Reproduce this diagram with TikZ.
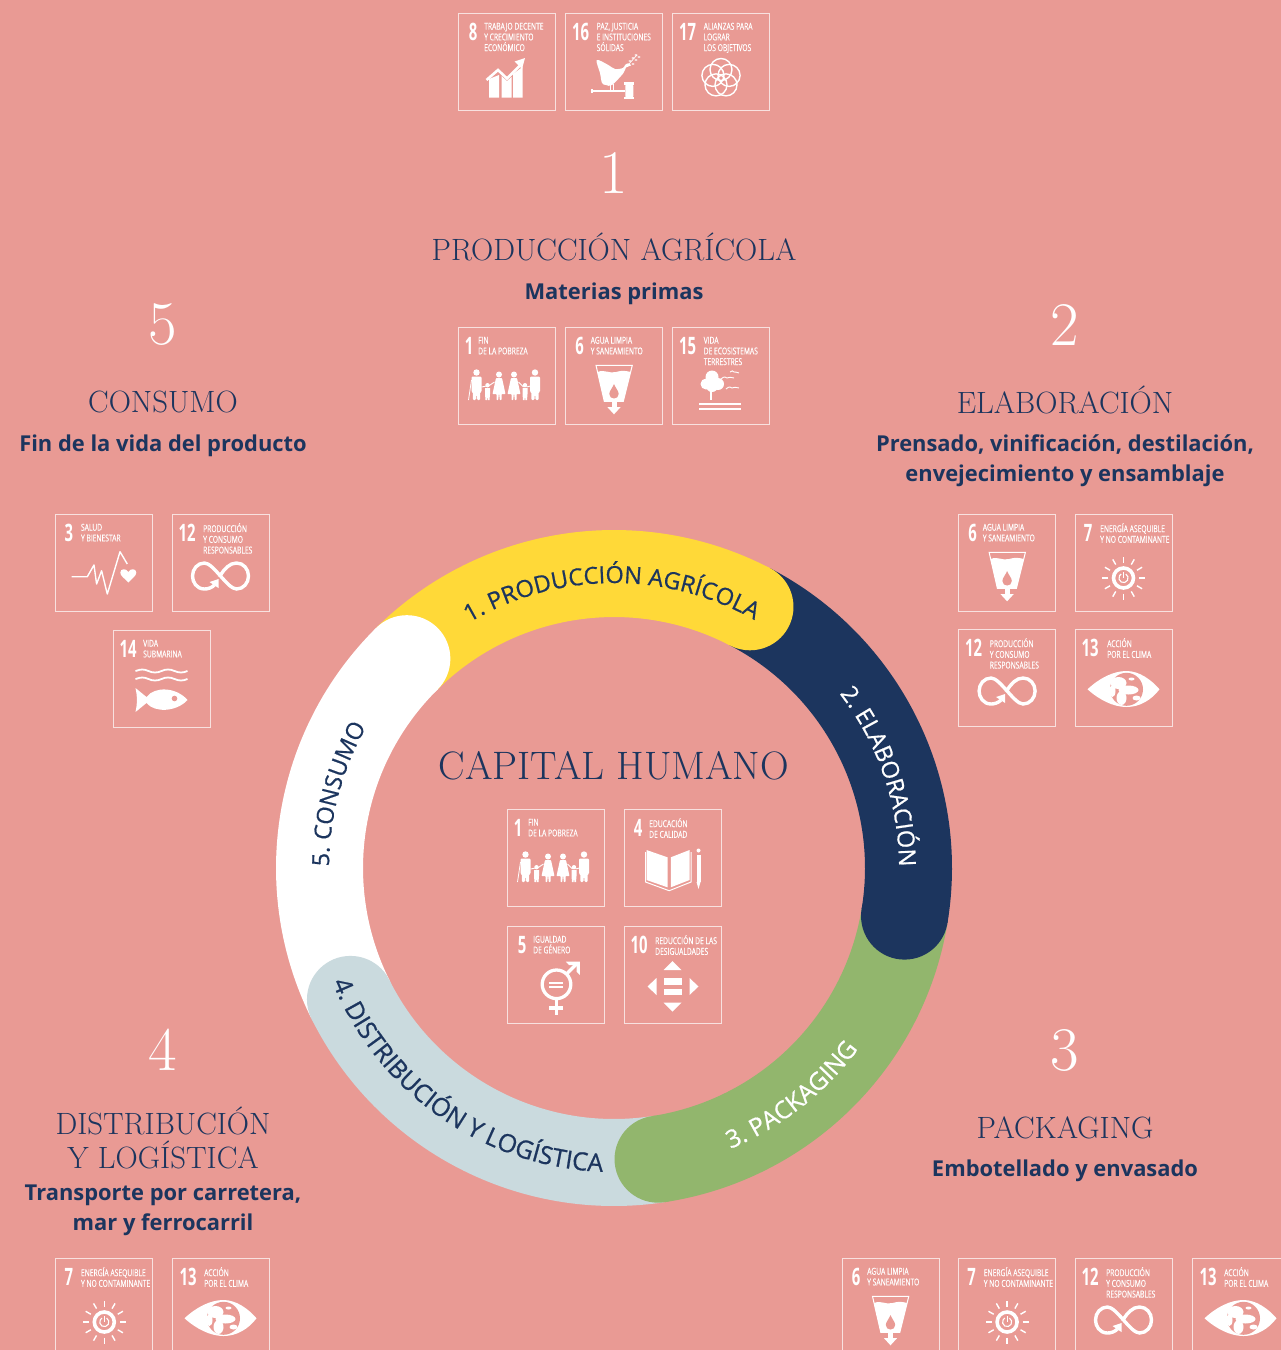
\documentclass[tikz,border=0pt]{standalone}
\usepackage{fontspec}
\usepackage{tikz}
\usetikzlibrary{decorations.text}
\newfontfamily\subfont{Open Sans}
\newfontfamily\ringfont[FakeBold=0.7]{Open Sans}
\newfontfamily\sdgfont[FakeStretch=0.7,FakeBold=0.25]{Open Sans}
\newfontfamily\sdgnumfont[FakeStretch=0.62]{Open Sans}
\definecolor{bgpink}{HTML}{E99A94}
\definecolor{navy}{HTML}{1C355E}
\definecolor{ringyellow}{HTML}{FFD938}
\definecolor{ringgreen}{HTML}{92B66D}
\definecolor{ringblue}{HTML}{CADADE}

% one person of the family icon
\newcommand{\adult}[1]{
  \fill (#1,19.5) circle[radius=3.2];
  \fill[rounded corners=1] (#1-5,15.5) -- (#1+5,15.5) -- (#1+5,0) -- (#1+3.7,0) -- (#1+3.5,-8) -- (#1+.6,-8) -- (#1,-1) -- (#1-.6,-8) -- (#1-3.5,-8) -- (#1-3.7,0) -- (#1-5,0) -- cycle;
}
\newcommand{\lady}[1]{
  \fill (#1,17.5) circle[radius=3];
  \fill[rounded corners=.7] (#1-3,14) -- (#1+3,14) -- (#1+6.5,-2) -- (#1+2.5,-2) -- (#1+2.5,-8) -- (#1+.6,-8) -- (#1+.4,-2) -- (#1-.4,-2) -- (#1-.6,-8) -- (#1-2.5,-8) -- (#1-2.5,-2) -- (#1-6.5,-2) -- cycle;
}
\newcommand{\kid}[1]{
  \fill (#1,6.8) circle[radius=2.2];
  \fill (#1-2.5,4) -- (#1+2.5,4) -- (#1+2.5,-2) -- (#1+2,-8) -- (#1+.4,-8) -- (#1,-3) -- (#1-.4,-8) -- (#1-2,-8) -- (#1-2.5,-2) -- cycle;
}

\tikzset{
  sdgbox/.style={draw=white!70!bgpink,line width=1pt,minimum size=97pt,inner sep=0pt,outer sep=0pt,anchor=north west},
  sdgnum/.style={text=white,inner sep=0pt,font=\sdgnumfont\bfseries\fontsize{24}{24}\selectfont},
  sdglab/.style={text=white,inner sep=0pt,anchor=north west,align=left,font=\sdgfont\fontsize{9.6}{10.7}\selectfont},
  titletext/.style={text=navy,inner sep=0pt,font=\fontsize{30.8}{34}\selectfont},
  bigdigit/.style={text=white,inner sep=0pt,font=\fontsize{62}{62}\selectfont},
  subtext/.style={text=navy,inner sep=0pt,align=center,font=\subfont\bfseries\fontsize{21.9}{30.5}\selectfont},
  ringtext/.style={decorate,decoration={text along path,text align=center,text color=#1}},
  icongrowth/.pic={
    \fill (-17.5,-19.5) -- (-17.5,-1) -- (-7.5,3) -- (-7.5,-19.5) -- cycle;
    \fill (-5,-19.5) -- (-5,2) -- (0.5,-3) -- (5,1) -- (5,-19.5) -- cycle;
    \fill (6.5,-19.5) -- (6.5,4) -- (16,11) -- (16,-19.5) -- cycle;
    \draw[white,line width=2.6] (-20,-2) -- (-8.5,8) -- (0.5,-0.5) -- (14,13);
    \fill (18.5,20) -- (8,16.5) -- (15.5,9) -- cycle;
  },
  icondove/.pic={
    \fill plot[smooth cycle,tension=.55] coordinates {(-17.3,18) (-5.7,13) (1,9) (9,10) (11,13) (14.3,14.7) (17,12.5) (12,10.5) (9.3,4.7) (-2,-7) (-8,-7) (-12,-5) (-14,5)};
    \draw[white,line width=1] (-4,-6) -- (-4,-12);
    \draw[white,line width=1] (-1,-6) -- (-1,-12);
    \fill (-23,-11.7) rectangle (11,-14);
    \fill (-23.5,-11) rectangle (-21.5,-14.7);
    \fill[rounded corners=.6] (11.3,-7) rectangle (19.3,-19);
    \fill (10.3,-4.3) rectangle (20.3,-6.5);
    \fill (10.3,-19) rectangle (20.3,-21);
    \draw[white,line width=.7] (14,13) -- (23,23);
    \foreach \lx/\ly in {16/17,19/20,22/23,19/14,22/18,25/21}
      \fill (\lx,\ly) ellipse[x radius=1.6,y radius=.8];
  },
  iconflower/.pic={
    \foreach \a in {90,162,234,306,18}
      \draw[white,line width=1.4] (\a:8.5) circle[radius=11];
  },
  iconfamily/.pic={
    \adult{-30} \lady{-7.5} \lady{7.5} \adult{28.5} \kid{-19} \kid{18.5}
    \draw[white,line width=.8] (-35,12) -- (-38,-8);
    \draw[white,line width=.9] (-25,5) -- (-20,6);
    \draw[white,line width=.9] (-18,6) -- (-12,10);
    \draw[white,line width=.9] (12,10) -- (17,5);
    \draw[white,line width=.9] (20,5) -- (24,6);
  },
  iconcup/.pic={
    \draw[white,line width=1] (-18,26.7) -- (18.3,26.7) -- (9.3,-9.3) -- (-9.7,-9.3) -- cycle;
    \fill (-16.5,20) .. controls (-9,23) and (-5,18) .. (2,20) .. controls (8,22) and (13,21) .. (16.6,20) -- (9.3,-9.3) -- (-9.7,-9.3) -- cycle;
    \fill (-2.5,-9.3) rectangle (2.5,-15);
    \fill (-6.7,-15) -- (6.7,-15) -- (0,-22.3) -- cycle;
    \fill[bgpink] (0,8) .. controls (1.5,4) and (4.7,1) .. (4.7,-2) .. controls (4.7,-8) and (-4.7,-8) .. (-4.7,-2) .. controls (-4.7,1) and (-1.5,4) .. (0,8);
  },
  icontree/.pic={
    \fill (-9,15) circle[radius=6.5];
    \fill (-15,8) circle[radius=5.5];
    \fill (-3,8) circle[radius=6];
    \fill (-9,6) circle[radius=6];
    \fill (-10.7,2) rectangle (-8.7,-8);
    \fill (-21.7,-10.7) rectangle (20,-12.7);
    \fill (-21.7,-15.7) rectangle (20,-17.7);
    \draw[white,line width=.9] (0,13) .. controls (3,16) and (5,15) .. (6,14) .. controls (8,15) and (10,15) .. (13,14);
    \draw[white,line width=.9] (9,20) .. controls (11,22) and (12,21) .. (13,20) .. controls (14,20) and (16,20) .. (18,19);
    \draw[white,line width=.9] (5,3) .. controls (8,6) and (10,5) .. (11,4) .. controls (13,5) and (15,5) .. (18,4);
  },
  iconbook/.pic={
    \fill (-26,24) -- (-5,16.7) -- (-5,-13.3) -- (-26,-6) -- cycle;
    \fill (-1.7,16.7) -- (17,24) -- (17,-6) -- (-1.7,-13.3) -- cycle;
    \draw[white,line width=1] (-27,22) -- (-27,-8) -- (-3.3,-16.7) -- (18.5,-8) -- (18.5,22);
    \fill (24,19) rectangle (28,-8);
    \fill (24,-8) -- (28,-8) -- (26,-15) -- cycle;
    \fill (26,23.5) circle[radius=2];
  },
  icongender/.pic={
    \draw[white,line width=3.3] (1,6.7) circle[radius=14.3];
    \fill (-6.5,9.5) rectangle (7.5,6.8);
    \fill (-6.5,5.5) rectangle (7.5,2.8);
    \draw[white,line width=3.3] (1,-9) -- (1,-24);
    \draw[white,line width=3.3] (-6.3,-17) -- (7.6,-17);
    \draw[white,line width=3.3] (12,18) -- (21,27);
    \fill (10.3,29.3) -- (24.3,29.3) -- (24.3,16) -- (21,19.5) -- (21,26) -- (13.5,26) -- cycle;
  },
  iconarrows/.pic={
    \fill (-9,21) -- (9,21) -- (0,30) -- cycle;
    \fill (-9,-11.7) -- (9,-11.7) -- (0,-20.7) -- cycle;
    \fill (-16,13) -- (-16,-4) -- (-25,4.5) -- cycle;
    \fill (17,13) -- (17,-4) -- (26,4.5) -- cycle;
    \fill (-9,13) rectangle (9,6.5);
    \fill (-9,2.5) rectangle (9,-4);
  },
  iconsun/.pic={
    \draw[white,line width=3.6] (0,1) circle[radius=10];
    \draw[white,line width=1.1] (0,1) ++(60:4.6) arc[start angle=60,end angle=-240,radius=4.6];
    \draw[white,line width=1.2] (0,1) -- (0,7);
    \foreach \a in {0,30,...,330}
      \draw[white,line width=1.4] (0,1) ++(\a:15.5) -- ++(\a:6);
  },
  iconloop/.pic={
    \begin{scope}[yshift=3]
    \draw[white,line width=3.4] (-6,-9) .. controls (-9,-12) and (-13,-13) .. (-16,-13) .. controls (-24,-13) and (-28,-6) .. (-28,0) .. controls (-28,7) and (-23,13) .. (-16,13) .. controls (-7,13) and (7,-13) .. (16,-13) .. controls (23,-13) and (28,-7) .. (28,0) .. controls (28,7) and (23,13) .. (16,13) .. controls (9,13) and (4,7) .. (0,1) -- (-1,-1);
    \fill (-2,-3) -- (-2,-12) -- (-11,-6) -- cycle;
    \end{scope}
  },
  iconeye/.pic={
    \fill (-36,4.7) .. controls (-24,16) and (-10,23) .. (3,23) .. controls (16,23) and (28,14) .. (36,4.7) .. controls (28,-6) and (16,-13) .. (3,-13) .. controls (-10,-13) and (-24,-6) .. (-36,4.7) -- cycle;
    \fill[bgpink] (3,4.7) circle[radius=16.5];
    \fill (-5,11) ellipse[x radius=8,y radius=6];
    \fill (5,4) ellipse[x radius=10,y radius=4.5];
    \fill (-2,-4) ellipse[x radius=5,y radius=7];
    \fill (13,-4) ellipse[x radius=4,y radius=2.5];
    \fill (-11,3) ellipse[x radius=3,y radius=6];
    \fill (8,15) ellipse[x radius=3,y radius=1.5];
  },
  iconpulse/.pic={
    \draw[white,line width=1.4,line join=round] (-32.7,2.3) -- (-17,2.3) -- (-10.3,14) -- (-7.7,-5) -- (-2.7,8.3) -- (3,-15) -- (15.7,27.3) -- (23,15);
    \fill (24,-3.5) .. controls (20,1) and (16,3) .. (16,6.5) .. controls (16,10.5) and (22,11) .. (24,7) .. controls (26,11) and (32,10.5) .. (32,6.5) .. controls (32,3) and (28,1) .. (24,-3.5);
  },
  iconfish/.pic={
    \foreach \wy in {24,16}
      \draw[white,line width=1.8] (-26,\wy) .. controls (-20,\wy+2) and (-18,\wy+2) .. (-13,\wy) .. controls (-9,\wy-2) and (-4,\wy-2) .. (0,\wy) .. controls (4,\wy+2) and (9,\wy+2) .. (13,\wy) .. controls (18,\wy-2) and (21,\wy-2) .. (26,\wy);
    \fill (26,-5) .. controls (15,8) and (-7,9) .. (-15,-2) -- (-26,7) .. controls (-24,-3) and (-24,-7) .. (-26,-17) -- (-15,-8) .. controls (-7,-18) and (15,-17) .. (26,-5) -- cycle;
    \fill[bgpink] (13,-3.5) circle[radius=2.8];
  },
}

% name, x, y, number, x of number, x of label, label, icon
\newcommand{\sdg}[8]{
  \node[sdgbox] (#1) at (#2,-#3) {};
  \node[sdgnum] (#1num) at ([shift={(#5,-19)}]#1.north west) {#4};
  \node[sdglab] (#1lab) at ([shift={(#6,-9)}]#1.north west) {\rule{0pt}{7.5pt}#7};
  \pic[white,fill=white] at ([shift={(48.5,-65)}]#1.north west) {#8};
}

\begin{document}
\begin{tikzpicture}[x=1pt,y=1pt]
  \useasboundingbox (0,0) rectangle (1281,-1350);
  \fill[bgpink] (0,0) rectangle (1281,-1350);

  % the ring
  \begin{scope}[shift={(614,-868)}]
    \foreach \col/\from/\to in {ringyellow/134.7/62.5,navy/62.5/-9.4,ringgreen/-9.4/-81.4,ringblue/-81.4/-153.5,white/-153.5/-225.3}
      \draw[\col,line width=87pt] (\from:294.5) arc[start angle=\from,end angle=\to,radius=294.5pt];
    \foreach \col/\to in {ringyellow/62.5,navy/-9.4,ringgreen/-81.4,ringblue/-153.5,white/134.7}
      \fill[\col] (\to:294.5) circle[radius=43.5pt];

    \path[ringtext=navy,decoration={text={|\ringfont\fontsize{23.5}{24}\selectfont|1. PRODUCCIÓN AGRÍCOLA}}]
      (140:285) arc[start angle=140,end angle=41,radius=285pt];
    \path[ringtext=white,decoration={text={|\ringfont\fontsize{23.5}{24}\selectfont|2. ELABORACIÓN}}]
      (64:285) arc[start angle=64,end angle=-26,radius=285pt];
    \path[ringtext=white,decoration={text={|\ringfont\fontsize{24.5}{24}\selectfont|3. PACKAGING}}]
      (-91.5:304) arc[start angle=-91.5,end angle=-12.5,radius=304pt];
    \path[ringtext=navy,decoration={text={|\ringfont\fontsize{25}{24}\selectfont|4. DISTRIBUCIÓN Y LOGÍSTICA}}]
      (189.5:304) arc[start angle=189.5,end angle=280.5,radius=304pt];
    \path[ringtext=navy,decoration={text={|\ringfont\fontsize{23.5}{24}\selectfont|5. CONSUMO}}]
      (201:285) arc[start angle=201,end angle=129,radius=285pt];
  \end{scope}

  % headings
  \node[bigdigit] (d1) at (614,-173) {1};
  \node[titletext] (t1) at (614,-247) {PRODUCCIÓN AGRÍCOLA};
  \node[subtext] (s1) at (614,-293.5) {Materias primas};
  \node[bigdigit] (d2) at (1065,-325) {2};
  \node[titletext] (t2) at (1065,-400) {ELABORACIÓN};
  \node[subtext] (s2) at (1065,-460.5) {Prensado, vinificación, destilación,\\envejecimiento y ensamblaje};
  \node[bigdigit] (d3) at (1065,-1050) {3};
  \node[titletext] (t3) at (1065,-1128) {PACKAGING};
  \node[subtext] (s3) at (1065,-1170.5) {Embotellado y envasado};
  \node[bigdigit] (d4) at (163,-1050) {4};
  \node[titletext,align=center] (t4) at (163,-1138) {DISTRIBUCIÓN\\Y LOGÍSTICA};
  \node[subtext] (s4) at (163,-1210.5) {Transporte por carretera,\\mar y ferrocarril};
  \node[bigdigit] (d5) at (163,-325) {5};
  \node[titletext] (t5) at (163,-402) {CONSUMO};
  \node[subtext] (s5) at (163,-445.5) {Fin de la vida del producto};
  \node[titletext,font=\fontsize{39.7}{40}\selectfont] (centre) at (614,-766) {CAPITAL HUMANO};

  % goal boxes
  \sdg{top8}{458}{13}{8}{15}{26}{TRABAJO DECENTE\\Y CRECIMIENTO\\ECONÓMICO}{icongrowth}
  \sdg{top16}{565.5}{13}{16}{15}{31}{PAZ, JUSTICIA\\E INSTITUCIONES\\SÓLIDAS}{icondove}
  \sdg{top17}{672.5}{13}{17}{15}{31}{ALIANZAS PARA\\LOGRAR\\LOS OBJETIVOS}{iconflower}

  \sdg{agr1}{458}{327}{1}{11}{20}{FIN\\DE LA POBREZA}{iconfamily}
  \sdg{agr6}{565.5}{327}{6}{14}{25}{AGUA LIMPIA\\Y SANEAMIENTO}{iconcup}
  \sdg{agr15}{672.5}{327}{15}{15}{31}{VIDA\\DE ECOSISTEMAS\\TERRESTRES}{icontree}

  \sdg{con3}{55.8}{514}{3}{13}{25}{SALUD\\Y BIENESTAR}{iconpulse}
  \sdg{con12}{172}{514}{12}{15}{31}{PRODUCCIÓN\\Y CONSUMO\\RESPONSABLES}{iconloop}
  \sdg{con14}{113}{630}{14}{15}{30}{VIDA\\SUBMARINA}{iconfish}

  \sdg{ela6}{958.6}{514}{6}{14}{24}{AGUA LIMPIA\\Y SANEAMIENTO}{iconcup}
  \sdg{ela7}{1075}{514}{7}{13}{25}{ENERGÍA ASEQUIBLE\\Y NO CONTAMINANTE}{iconsun}
  \sdg{ela12}{958.6}{629}{12}{15}{31}{PRODUCCIÓN\\Y CONSUMO\\RESPONSABLES}{iconloop}
  \sdg{ela13}{1075}{629}{13}{15}{32}{ACCIÓN\\POR EL CLIMA}{iconeye}

  \sdg{cap1}{507}{809}{1}{11}{21}{FIN\\DE LA POBREZA}{iconfamily}
  \sdg{cap4}{624}{809}{4}{14}{25}{EDUCACIÓN\\DE CALIDAD}{iconbook}
  \sdg{cap5}{507}{926}{5}{15}{26}{IGUALDAD\\DE GÉNERO}{icongender}
  \sdg{cap10}{624}{926}{10}{15}{31}{REDUCCIÓN DE LAS\\DESIGUALDADES}{iconarrows}

  \sdg{dis7}{55.8}{1258}{7}{13}{25}{ENERGÍA ASEQUIBLE\\Y NO CONTAMINANTE}{iconsun}
  \sdg{dis13}{172}{1258}{13}{16}{32}{ACCIÓN\\POR EL CLIMA}{iconeye}

  \sdg{pac6}{842}{1258}{6}{14}{25}{AGUA LIMPIA\\Y SANEAMIENTO}{iconcup}
  \sdg{pac7}{958.6}{1258}{7}{13}{25}{ENERGÍA ASEQUIBLE\\Y NO CONTAMINANTE}{iconsun}
  \sdg{pac12}{1075}{1258}{12}{15}{31}{PRODUCCIÓN\\Y CONSUMO\\RESPONSABLES}{iconloop}
  \sdg{pac13}{1192}{1258}{13}{16}{32}{ACCIÓN\\POR EL CLIMA}{iconeye}
\end{tikzpicture}
\end{document}
